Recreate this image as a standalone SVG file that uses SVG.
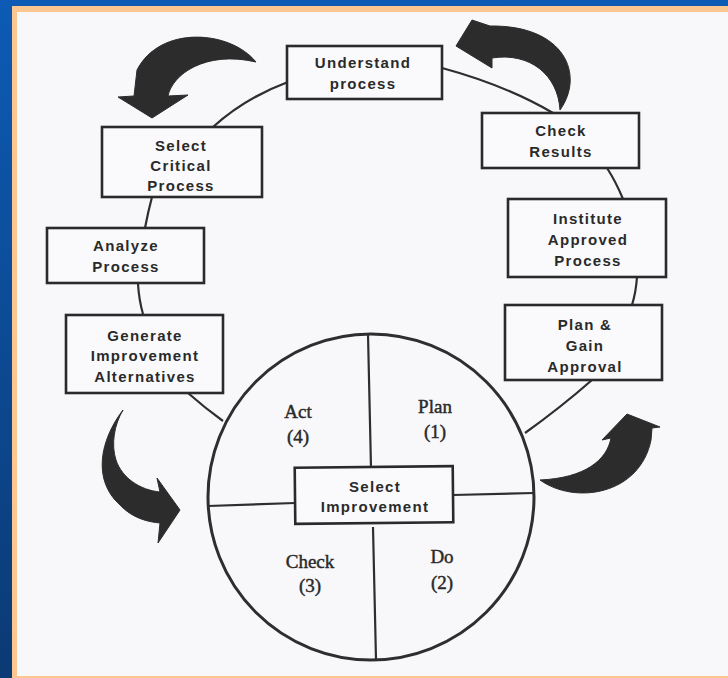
<svg xmlns="http://www.w3.org/2000/svg" width="728" height="678" viewBox="0 0 728 678">
<defs>
<linearGradient id="bg" x1="0" y1="0" x2="0" y2="1">
<stop offset="0" stop-color="#0d5bb5"/>
<stop offset="1" stop-color="#0b3a74"/>
</linearGradient>
<style>
.box{fill:#fafafc;stroke:#2a2a2a;stroke-width:2.6}
.lbl{font-family:"Liberation Sans",Arial,sans-serif;font-weight:bold;font-size:15px;letter-spacing:1.3px;fill:#2a2a2a;text-anchor:middle}
.q{font-family:"Liberation Serif","Times New Roman",serif;font-size:19px;fill:#2a2a2a;stroke:#2a2a2a;stroke-width:0.45;text-anchor:middle}
.ln{fill:none;stroke:#2e2e2e;stroke-width:2.2}
.arw{fill:#2c2c2c;stroke:#2c2c2c;stroke-width:1;stroke-linejoin:round}
</style>
</defs>
<rect x="0" y="0" width="728" height="678" fill="url(#bg)"/>
<rect x="12" y="6" width="716" height="672" fill="#fcc690"/>
<rect x="17" y="12" width="711" height="664" fill="#f8f8fb"/>

<g id="connectors">
<path class="ln" d="M288,82 Q245,98 213,127"/>
<path class="ln" d="M152,197 Q148,212 145,228"/>
<path class="ln" d="M138,284 Q139,300 143,314"/>
<path class="ln" d="M188,393 Q205,408 223,421"/>
<path class="ln" d="M442,68 Q505,85 553,113"/>
<path class="ln" d="M607,168 Q616,182 623,199"/>
<path class="ln" d="M637,277 Q636,292 632,305"/>
<path class="ln" d="M592,380 Q560,408 525,433"/>
</g>

<g id="cycle-arrows">
<path class="arw" d="M256,62 C230,30 160,25 137,70 L134,96 L118,97 L152,118 L188,95 L168,96 C172,75 205,50 256,62 Z"/>
<path class="arw" d="M560,110 C585,75 565,25 490,26 L472,20 L456,46 L492,68 L492,58 C530,52 558,75 560,110 Z"/>
<path class="arw" d="M123,410 C100,440 92,480 120,505 C132,518 148,522 160,523 L158,543 L180,510 L157,478 L160,492 C140,490 122,478 116,460 C111,445 114,425 123,410 Z"/>
<path class="arw" d="M540,480 C575,505 640,495 651,440 L652,428 L660,427 L627,414 L602,440 L611,438 C607,460 585,478 540,480 Z"/>
</g>

<g id="pdca-circle">
<circle cx="371" cy="497" r="163" fill="none" stroke="#2e2e2e" stroke-width="3"/>
<path class="ln" d="M368,334 L371,468 M373,527 L376,660 M208,506 L295,503 M453,495 L534,493"/>
<text class="q" x="298" y="418">Act</text>
<text class="q" x="298" y="443">(4)</text>
<text class="q" x="435" y="413">Plan</text>
<text class="q" x="435" y="438">(1)</text>
<text class="q" x="310" y="568">Check</text>
<text class="q" x="310" y="592">(3)</text>
<text class="q" x="442" y="563">Do</text>
<text class="q" x="442" y="589">(2)</text>
</g>

<g id="select-improvement">
<rect class="box" x="295" y="467" width="158" height="56" transform="rotate(-0.6 374 495)"/>
<text class="lbl" x="375" y="492">Select</text>
<text class="lbl" x="375" y="512">Improvement</text>
</g>

<g id="understand-process">
<rect class="box" x="287" y="46" width="155" height="53"/>
<text class="lbl" x="363" y="68">Understand</text>
<text class="lbl" x="363" y="89">process</text>
</g>

<g id="check-results">
<rect class="box" x="482" y="113" width="157" height="55"/>
<text class="lbl" x="561" y="136">Check</text>
<text class="lbl" x="561" y="157">Results</text>
</g>

<g id="institute-approved-process">
<rect class="box" x="508" y="199" width="158" height="78"/>
<text class="lbl" x="588" y="224">Institute</text>
<text class="lbl" x="588" y="245">Approved</text>
<text class="lbl" x="588" y="266">Process</text>
</g>

<g id="plan-gain-approval">
<rect class="box" x="505" y="305" width="157" height="75"/>
<text class="lbl" x="585" y="330">Plan &amp;</text>
<text class="lbl" x="585" y="351">Gain</text>
<text class="lbl" x="585" y="372">Approval</text>
</g>

<g id="select-critical-process">
<rect class="box" x="102" y="127" width="160" height="70"/>
<text class="lbl" x="181" y="151">Select</text>
<text class="lbl" x="181" y="171">Critical</text>
<text class="lbl" x="181" y="191">Process</text>
</g>

<g id="analyze-process">
<rect class="box" x="47" y="228" width="157" height="55"/>
<text class="lbl" x="126" y="251">Analyze</text>
<text class="lbl" x="126" y="272">Process</text>
</g>

<g id="generate-improvement-alternatives">
<rect class="box" x="66" y="315" width="157" height="78"/>
<text class="lbl" x="145" y="341">Generate</text>
<text class="lbl" x="145" y="361">Improvement</text>
<text class="lbl" x="145" y="382">Alternatives</text>
</g>
</svg>
